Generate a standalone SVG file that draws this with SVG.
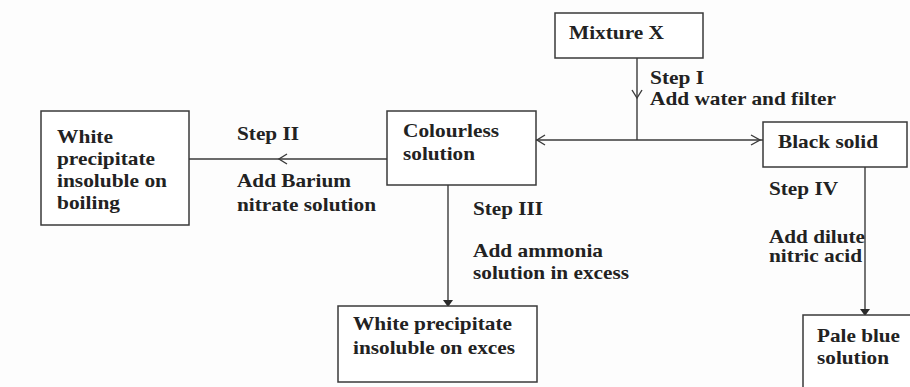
<svg xmlns="http://www.w3.org/2000/svg" width="910" height="387" viewBox="0 0 910 387">
<style>
.box{fill:#fff;stroke:#3a3a3a;stroke-width:1.5}
.ln{fill:none;stroke:#3a3a3a;stroke-width:1.4}
.ah{fill:#2a2a2a;stroke:none}
text{font-family:"Liberation Serif","Times New Roman",serif;font-weight:bold;font-size:19px;fill:#222}
</style>
<rect width="910" height="387" fill="#fdfdfd"/>
<g id="connectors">
<path class="ln" d="M637 58 V140"/>
<path class="ln" d="M632 90 L637 98 L642 90"/>
<path class="ln" d="M536 140 H763"/>
<path class="ln" d="M545 135 L537 140 L545 145"/>
<path class="ln" d="M751 135 L760 140 L751 145"/>
<path class="ln" d="M189 159 H387"/>
<path class="ln" d="M287 154 L279 159 L287 164"/>
<path class="ln" d="M448 185 V306"/>
<path class="ah" d="M443 300 L453 300 L448 307 Z"/>
<path class="ln" d="M865 167 V315"/>
<path class="ah" d="M860 309 L870 309 L865 316 Z"/>
<text x="650" y="84" textLength="54" lengthAdjust="spacingAndGlyphs">Step I</text>
<text x="650" y="105" textLength="186" lengthAdjust="spacingAndGlyphs">Add water and filter</text>
<text x="237" y="140" textLength="62" lengthAdjust="spacingAndGlyphs">Step II</text>
<text x="237" y="187" textLength="114" lengthAdjust="spacingAndGlyphs">Add Barium</text>
<text x="237" y="211" textLength="139" lengthAdjust="spacingAndGlyphs">nitrate solution</text>
<text x="473" y="215" textLength="70" lengthAdjust="spacingAndGlyphs">Step III</text>
<text x="473" y="257" textLength="130" lengthAdjust="spacingAndGlyphs">Add ammonia</text>
<text x="473" y="279" textLength="156" lengthAdjust="spacingAndGlyphs">solution in excess</text>
<text x="769" y="195" textLength="69" lengthAdjust="spacingAndGlyphs">Step IV</text>
<text x="769" y="243" textLength="96" lengthAdjust="spacingAndGlyphs">Add dilute</text>
<text x="769" y="262" textLength="93" lengthAdjust="spacingAndGlyphs">nitric acid</text>
</g>
<g id="mixture-x">
<rect class="box" x="555" y="13" width="148" height="45"/>
<text x="569" y="39" textLength="95" lengthAdjust="spacingAndGlyphs">Mixture X</text>
</g>
<g id="black-solid">
<rect class="box" x="763" y="122" width="144" height="45"/>
<text x="778" y="148" textLength="100" lengthAdjust="spacingAndGlyphs">Black solid</text>
</g>
<g id="colourless-solution">
<rect class="box" x="387" y="111" width="149" height="74"/>
<text x="403" y="137" textLength="96" lengthAdjust="spacingAndGlyphs">Colourless</text>
<text x="403" y="160" textLength="72" lengthAdjust="spacingAndGlyphs">solution</text>
</g>
<g id="white-ppt-boiling">
<rect class="box" x="41" y="111" width="148" height="114"/>
<text x="57" y="143" textLength="56" lengthAdjust="spacingAndGlyphs">White</text>
<text x="57" y="165" textLength="98" lengthAdjust="spacingAndGlyphs">precipitate</text>
<text x="57" y="187" textLength="110" lengthAdjust="spacingAndGlyphs">insoluble on</text>
<text x="57" y="209" textLength="63" lengthAdjust="spacingAndGlyphs">boiling</text>
</g>
<g id="white-ppt-excess">
<rect class="box" x="338" y="306" width="199" height="76"/>
<text x="353" y="330" textLength="159" lengthAdjust="spacingAndGlyphs">White precipitate</text>
<text x="353" y="354" textLength="162" lengthAdjust="spacingAndGlyphs">insoluble on exces</text>
</g>
<g id="pale-blue-solution">
<rect class="box" x="803" y="315" width="120" height="90"/>
<text x="817" y="342" textLength="83" lengthAdjust="spacingAndGlyphs">Pale blue</text>
<text x="817" y="364" textLength="72" lengthAdjust="spacingAndGlyphs">solution</text>
</g>
</svg>
